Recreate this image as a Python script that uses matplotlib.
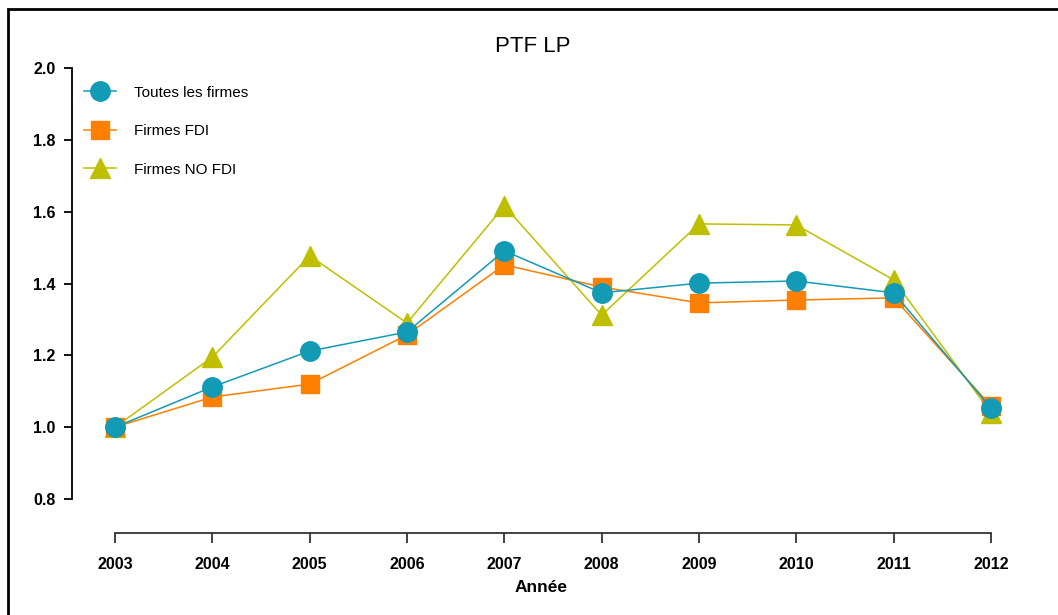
import matplotlib
matplotlib.use("Agg")
import matplotlib.pyplot as plt
from matplotlib.patches import Rectangle

# data
years = [2003, 2004, 2005, 2006, 2007, 2008, 2009, 2010, 2011, 2012]
toutes = [1.000, 1.112, 1.212, 1.265, 1.491, 1.374, 1.401, 1.407, 1.374, 1.053]
fdi = [1.000, 1.084, 1.120, 1.257, 1.452, 1.390, 1.346, 1.354, 1.360, 1.059]
no_fdi = [1.000, 1.195, 1.477, 1.290, 1.616, 1.312, 1.566, 1.563, 1.410, 1.040]
y_ticks = [0.8, 1.0, 1.2, 1.4, 1.6, 1.8, 2.0]

c_teal = "#139AB5"
c_orange = "#FF7F00"
c_olive = "#BFBF00"

plt.rcParams["font.family"] = ["Liberation Sans", "DejaVu Sans"]

W, H = 1058, 615
fig = plt.figure(figsize=(W / 100, H / 100), dpi=100)

# axes box in pixels
left, right, top, bottom = 72, 1010, 68, 533
ax = fig.add_axes([left / W, 1 - bottom / H, (right - left) / W, (bottom - top) / H])

ax.plot(years, no_fdi, color=c_olive, lw=1.1, marker="^", ms=14, mec=c_olive,
        label="Firmes NO FDI", zorder=3)
ax.plot(years, fdi, color=c_orange, lw=1.1, marker="s", ms=13, mec=c_orange,
        label="Firmes FDI", zorder=4)
ax.plot(years, toutes, color=c_teal, lw=1.1, marker="o", ms=14, mec=c_teal,
        label="Toutes les firmes", zorder=5)

# 2003 at px 115, 2012 at px 991
px_per_year = (991 - 115) / 9
ax.set_xlim(2003 - (115 - left) / px_per_year, 2012 + (right - 991) / px_per_year)
px_per_unit = (499 - 68) / 1.2
ax.set_ylim(2.0 - (bottom - top) / px_per_unit, 2.0)

ax.set_yticks(y_ticks)
ax.set_yticklabels([f"{v:.1f}" for v in y_ticks])
ax.set_xticks(years)
ax.set_xticklabels([str(y) for y in years])

for s in ["top", "right"]:
    ax.spines[s].set_visible(False)
ax.spines["left"].set_bounds(0.8, 2.0)
ax.spines["bottom"].set_bounds(2003, 2012)
ax.spines["left"].set_linewidth(1.3)
ax.spines["bottom"].set_linewidth(1.3)
ax.spines["bottom"].set_color("#333333")

ax.tick_params(axis="y", length=6, width=1.3, pad=6, labelsize=11.5)
ax.tick_params(axis="x", length=7, width=1.3, pad=10, labelsize=11.5, color="#333333")
for lab in ax.get_xticklabels() + ax.get_yticklabels():
    lab.set_fontweight("bold")

ax.set_xlabel("Année", fontsize=12.5, fontweight="bold", labelpad=6)
fig.text(533 / W, 1 - 47 / H, "PTF LP", ha="center", va="center", fontsize=16)

handles, labels = ax.get_legend_handles_labels()
leg = ax.legend(handles[::-1], labels[::-1], loc="upper left",
                bbox_to_anchor=(70 / W, 1 - 72 / H), bbox_transform=fig.transFigure,
                frameon=False, fontsize=11, handlelength=2.1, labelspacing=1.6,
                handletextpad=1.2)

# frame around the figure (only left and top visible in the crop)
fig.patches.append(Rectangle((8 / W, -0.1), 1.2, 1 - 9 / H + 0.1, transform=fig.transFigure,
                             fill=False, lw=2, ec="black"))

fig.savefig("out.png", dpi=100)
